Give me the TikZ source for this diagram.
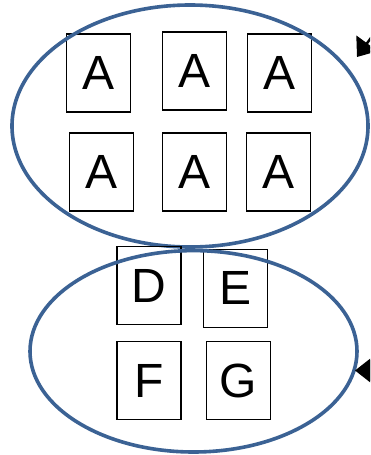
\documentclass[tikz,border=0pt]{standalone}
\usepackage{fontspec}
\setmainfont{Liberation Sans}
\usetikzlibrary{arrows.meta}
\definecolor{ellblue}{HTML}{3B6294}
\tikzset{
  card/.style={draw=black, line width=1.3pt, minimum width=64pt, minimum height=78pt, inner sep=0pt, font=\fontsize{48}{48}\selectfont, text=black},
  group/.style={draw=ellblue, line width=3.6pt},
  pointer/.style={draw=black, line width=2.5pt, -{Triangle[length=17pt,width=26pt]}}
}
\begin{document}
\begin{tikzpicture}[x=1pt,y=-1pt]
\useasboundingbox (0,0) rectangle (370,455);
\clip (0,0) rectangle (370,455);
\fill[white] (0,0) rectangle (370,455);
% top group
\node[card] (a1) at (98.5,73) {A};
\node[card] (a2) at (194.5,71) {A};
\node[card] (a3) at (279.5,73) {A};
\node[card] (a4) at (101.5,172) {A};
\node[card] (a5) at (194.5,172) {A};
\node[card] (a6) at (278.5,172) {A};
\draw[group] (190,126) ellipse [x radius=178, y radius=121];
% bottom group
\node[card] (d) at (149,285.7) {D};
\node[card] (e) at (235.5,288.2) {E};
\node[card] (f) at (149,380.5) {F};
\node[card] (g) at (238.3,380.5) {G};
\draw[group] (193.5,351.3) ellipse [x radius=163.5, y radius=100.7];
% arrows
\coordinate (t1) at (387,16);
\coordinate (t1tip) at (357,57);
\draw[pointer] (t1) -- (t1tip);
\coordinate (t2) at (400,370.5);
\coordinate (t2tip) at (355,370.5);
\draw[pointer] (t2) -- (t2tip);
\end{tikzpicture}
\end{document}
